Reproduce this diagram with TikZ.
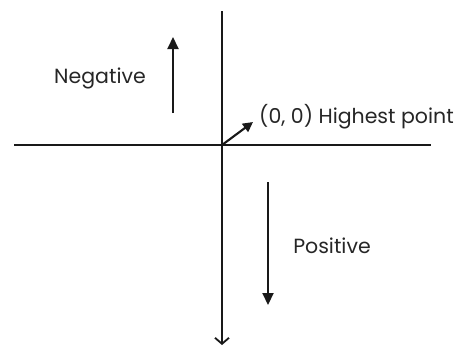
\documentclass[tikz,border=0pt]{standalone}
\usepackage{fontspec}
\setmainfont{Poppins}
\usetikzlibrary{arrows.meta}
\begin{document}
\begin{tikzpicture}[x=1pt,y=-1pt,
  axis/.style={line width=2.1pt,black!90},
  marker/.style={line width=2.1pt,black!90,-{Triangle[length=12pt,width=11pt]}},
  lbl/.style={font=\fontsize{20.5}{22}\selectfont,text=black!85,inner sep=0pt}]
\useasboundingbox (0,0) rectangle (460,349);
\coordinate (o) at (222,145);
\coordinate (vtop) at (222,11);
\coordinate (vbot) at (222,345);
\coordinate (hl) at (14,145);
\coordinate (hr) at (431,145);
\draw[axis] (hl) -- (hr);
\draw[axis] (vtop) -- (o);
\draw[axis,-{Straight Barb[length=6pt,width=14pt,line width=1.8pt]}] (o) -- (vbot);
\coordinate (n1) at (173,113);
\coordinate (n2) at (173,37);
\draw[marker] (n1) -- (n2);
\node[lbl] (neg) at (100,78) {Negative};
\coordinate (p1) at (268,182);
\coordinate (p2) at (268,305);
\draw[marker] (p1) -- (p2);
\node[lbl] (pos) at (332,246) {Positive};
\coordinate (d2) at (253,122);
\draw[marker,-{Triangle[length=10pt,width=10pt]}] (o) -- (d2);
\node[lbl,anchor=west] (hp) at (259,117) {(0, 0) Highest point};
\end{tikzpicture}
\end{document}
